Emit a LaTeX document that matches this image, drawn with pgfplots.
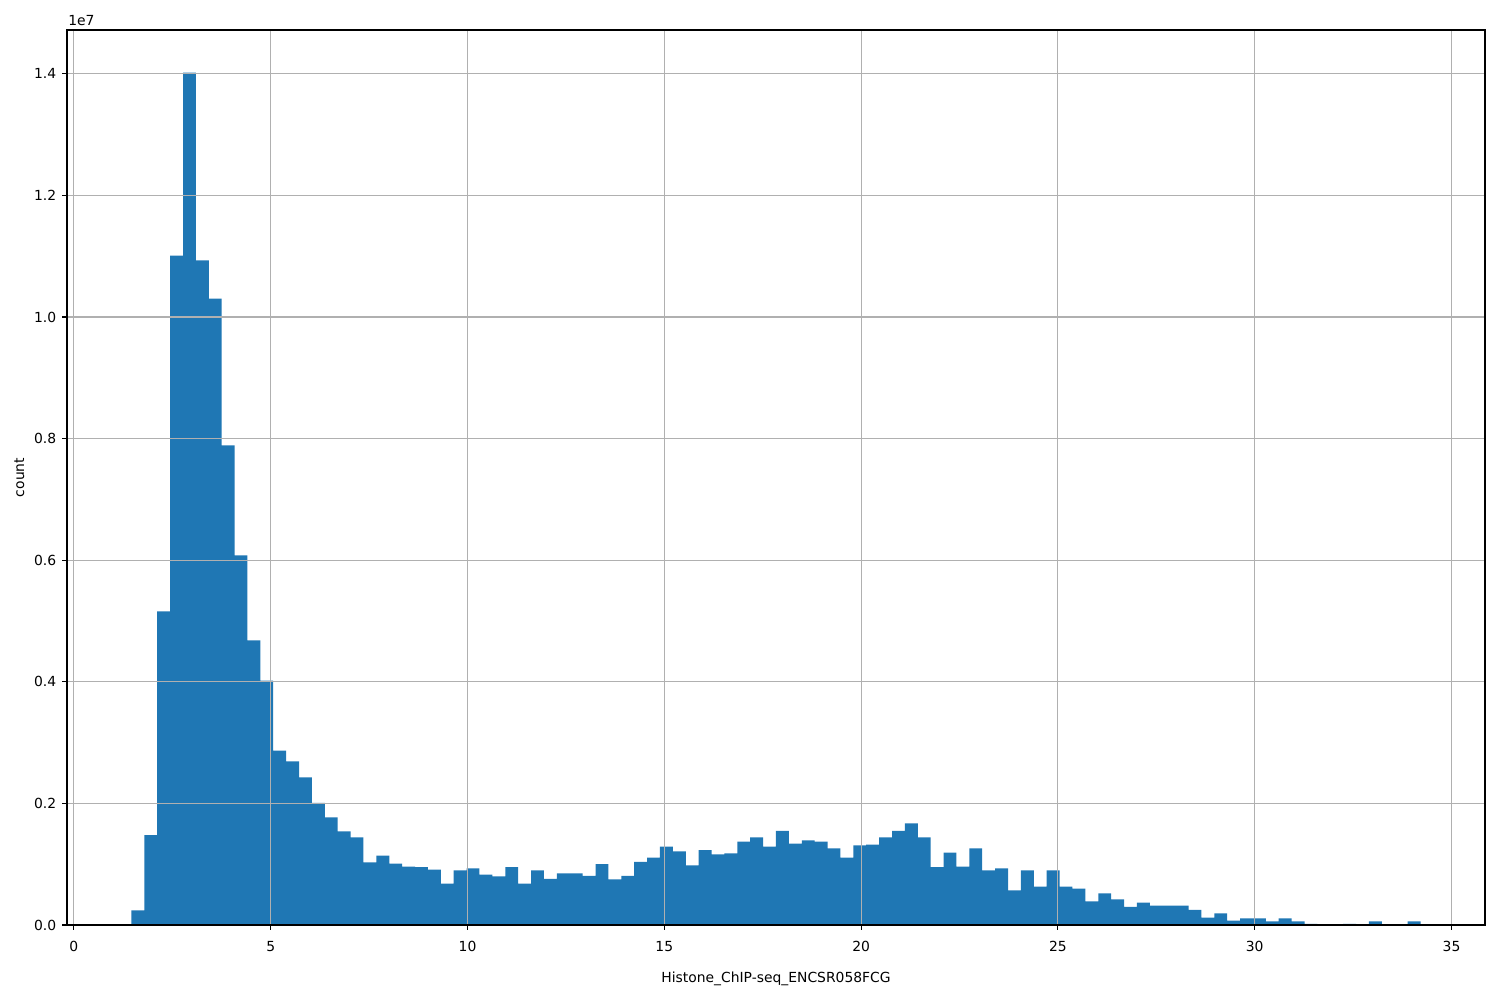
\documentclass[border=0pt]{standalone}
\usepackage{fontspec}
\setmainfont{DejaVu Sans}
\usepackage{pgfplots}
\pgfplotsset{compat=1.18}
\definecolor{barc}{HTML}{1F77B4}
\definecolor{gridc}{HTML}{B0B0B0}
\begin{document}
\begin{tikzpicture}
\begin{axis}[
 scale only axis, width=1020.96pt, height=644.4pt,
 xmin=-0.175, xmax=35.85, ymin=0, ymax=14.72,
 axis on top,
 grid=major, grid style={gridc, line width=0.8pt},
 axis line style={black, line width=0.8pt},
 tick align=outside, tick pos=left,
 major tick length=3.5pt,
 tick style={black, line width=0.8pt},
 xtick={0,5,10,15,20,25,30,35}, xticklabels={0,5,10,15,20,25,30,35},
 ytick={0,2,4,6,8,10,12,14}, yticklabels={0.0,0.2,0.4,0.6,0.8,1.0,1.2,1.4},
 tick label style={font=\fontsize{10}{12}\selectfont},
 xticklabel style={anchor=north, inner sep=0pt, yshift=-7.9pt},
 yticklabel style={anchor=east, inner sep=0pt, xshift=-4.1pt},
 xlabel={Histone\_ChIP-seq\_ENCSR058FCG},
 xlabel style={at={(axis description cs:0.5,0)}, anchor=base, inner sep=0pt, yshift=-41.5pt, font=\fontsize{10}{12}\selectfont},
]
\addplot[ybar interval, fill=barc, draw=none] table {
x y
1.4620 0.24
1.7895 1.48
2.1170 5.16
2.4445 11.01
2.7720 14.02
3.0995 10.93
3.4270 10.30
3.7545 7.89
4.0820 6.08
4.4095 4.68
4.7370 4.02
5.0645 2.87
5.3920 2.69
5.7195 2.43
6.0470 2.01
6.3745 1.77
6.7020 1.54
7.0295 1.44
7.3570 1.03
7.6845 1.14
8.0120 1.01
8.3395 0.96
8.6670 0.95
8.9945 0.91
9.3220 0.68
9.6495 0.90
9.9770 0.93
10.3045 0.83
10.6320 0.80
10.9595 0.95
11.2870 0.68
11.6145 0.90
11.9420 0.76
12.2695 0.85
12.5970 0.85
12.9245 0.81
13.2520 1.00
13.5795 0.75
13.9070 0.81
14.2345 1.04
14.5620 1.11
14.8895 1.29
15.2170 1.21
15.5445 0.98
15.8720 1.23
16.1995 1.16
16.5270 1.18
16.8545 1.37
17.1820 1.44
17.5095 1.29
17.8370 1.55
18.1645 1.34
18.4920 1.39
18.8195 1.37
19.1470 1.26
19.4745 1.11
19.8020 1.31
20.1295 1.32
20.4570 1.44
20.7845 1.55
21.1120 1.67
21.4395 1.44
21.7670 0.95
22.0945 1.19
22.4220 0.96
22.7495 1.26
23.0770 0.90
23.4045 0.93
23.7320 0.57
24.0595 0.90
24.3870 0.63
24.7145 0.90
25.0420 0.63
25.3695 0.60
25.6970 0.39
26.0245 0.52
26.3520 0.42
26.6795 0.30
27.0070 0.37
27.3345 0.32
27.6620 0.32
27.9895 0.32
28.3170 0.25
28.6445 0.12
28.9720 0.19
29.2995 0.07
29.6270 0.11
29.9545 0.11
30.2820 0.06
30.6095 0.11
30.9370 0.06
31.2645 0.02
31.5920 0
31.9195 0
32.2470 0.02
32.5745 0
32.9020 0.06
33.2295 0
33.5570 0
33.8845 0.06
34.2120 0
};
\coordinate (SW) at (rel axis cs:0,0);
\coordinate (NE) at (rel axis cs:1,1);
\coordinate (MID) at (rel axis cs:0,0.5);
\end{axis}
\node[anchor=base west, inner sep=0pt, font=\fontsize{10}{12}\selectfont] at ([xshift=0.7pt, yshift=2.9pt]SW |- NE) {1e7};
\node[anchor=south, rotate=90, inner sep=0pt, font=\fontsize{10}{12}\selectfont] at ([xshift=-30.6pt]MID) {count};
\pgfresetboundingbox
\path[use as bounding box] ([xshift=-48.24pt,yshift=-54pt]SW) rectangle ([xshift=10.8pt,yshift=21.6pt]NE);
\end{tikzpicture}
\end{document}
